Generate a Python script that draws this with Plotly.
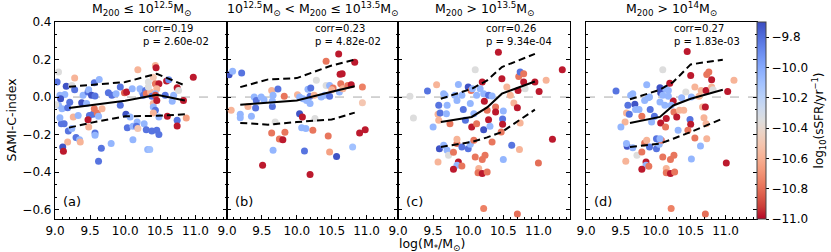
import plotly.graph_objects as go

# ---------------- data ----------------
# sSFR codes used below: dark blue -9.72, blue -9.82, light blue -10.05, grey -10.35,
# light orange -10.58, orange -10.78, red -10.97
a_x = [9.05, 9.03, 9.28, 9.16, 9.24, 9.28, 9.07, 9.14, 9.21, 9.08, 9.05, 9.01, 9.10, 9.18, 9.26, 9.33,
       9.38, 9.40, 9.47, 9.48, 9.56, 9.63, 9.52, 9.57, 9.45, 9.49, 9.54, 9.47, 9.48, 9.56, 9.60, 9.67,
       9.62, 9.09, 9.13, 9.07, 9.19, 9.24, 9.30, 9.35, 9.36, 9.18, 9.11, 9.12, 9.57, 9.57, 9.66, 9.62,
       9.80, 9.76, 9.81, 9.87, 9.93, 9.99, 10.02, 9.93, 10.01, 10.07, 10.03, 10.11, 10.11, 10.17, 10.16,
       10.18, 10.18, 10.10, 10.21, 10.24, 10.29, 10.26, 10.30, 10.36, 10.33, 10.33, 10.38, 10.40, 10.27,
       10.30, 10.38, 10.32, 10.35, 10.43, 10.44, 10.40, 10.43, 10.48, 10.45, 10.43, 10.43, 10.45, 10.40,
       10.43, 10.40, 10.48, 10.45, 10.48, 10.57, 10.59, 10.62, 10.67, 10.69, 10.74, 10.76, 10.74, 10.74,
       10.60, 10.87, 10.83, 10.97]
a_y = [0.133, 0.080, 0.101, 0.057, 0.062, 0.039, 0.009, 0.014, -0.028, -0.009, -0.044, -0.041, -0.062,
       -0.057, -0.106, -0.098, -0.030, 0.009, 0.027, 0.039, 0.076, 0.094, 0.009, 0.005, -0.035, -0.098,
       -0.092, -0.121, -0.160, -0.062, -0.085, -0.062, -0.103, -0.142, -0.142, -0.110, -0.181, -0.168,
       -0.216, -0.227, -0.239, -0.239, -0.266, -0.289, -0.191, -0.204, -0.273, -0.342, -0.248, 0.023,
       0.009, 0.018, 0.053, 0.023, 0.027, -0.044, -0.092, -0.106, -0.163, -0.156, -0.227, -0.133, -0.156,
       -0.168, 0.145, 0.044, 0.044, 0.027, 0.035, 0.009, 0.018, 0.027, 0.053, 0.080, 0.004, -0.035, -0.142,
       -0.174, -0.181, -0.280, -0.280, 0.168, 0.156, 0.106, 0.071, 0.071, 0.044, 0.018, 0.009, -0.018,
       -0.053, -0.071, -0.085, -0.106, -0.177, -0.200, 0.009, 0.085, 0.092, -0.023, 0.009, 0.050, 0.035,
       -0.124, -0.154, -0.103, -0.112, -0.018, 0.106]
a_c = [-10.35, -9.82, -10.58, -9.72, -10.35, -9.82, -10.05, -10.05, -9.82, -9.72, -10.05, -10.35, -10.05,
       -9.82, -10.58, -10.05, -9.72, -10.05, -9.82, -10.05, -9.82, -10.05, -9.72, -9.82, -10.05, -9.82,
       -9.82, -10.97, -10.58, -10.78, -10.78, -10.58, -10.05, -9.82, -9.82, -10.05, -9.82, -10.05, -9.82,
       -10.05, -10.58, -10.58, -9.72, -10.97, -9.82, -10.05, -9.82, -9.82, -10.05, -9.82, -9.82, -10.05,
       -9.82, -10.85, -10.97, -9.82, -9.72, -10.05, -9.82, -10.05, -10.05, -10.05, -9.82, -10.5, -10.58,
       -10.05, -10.05, -10.05, -9.82, -9.82, -10.78, -10.58, -10.35, -10.35, -9.82, -10.58, -10.05, -9.82,
       -9.82, -10.05, -10.1, -10.58, -10.97, -10.5, -10.78, -10.97, -10.58, -10.05, -10.9, -10.97, -10.05,
       -9.82, -10.58, -10.05, -9.82, -9.82, -9.82, -10.97, -9.9, -10.05, -10.05, -10.97, -10.35, -9.82,
       -10.97, -10.97, -10.65, -10.97, -10.97]

b_x = [9.03, 9.08, 9.21, 9.06, 9.19, 9.19, 9.35, 9.30, 9.39, 9.42, 9.41, 9.49, 9.53, 9.64, 9.66, 9.65,
       9.65, 9.73, 9.82, 9.69, 9.64, 9.83, 9.75, 9.80, 9.66, 9.51, 10.01, 10.04, 10.04, 10.08, 10.09,
       10.16, 10.20, 10.19, 10.19, 10.14, 10.25, 10.26, 10.07, 10.13, 10.23, 10.11, 10.19, 10.28, 10.35,
       10.40, 10.42, 10.47, 10.47, 10.52, 10.50, 10.42, 10.45, 10.47, 10.57, 10.60, 10.62, 10.65, 10.63,
       10.61, 10.66, 10.73, 10.78, 10.80, 10.83, 10.94, 10.94, 10.90, 10.98]
b_y = [0.119, 0.137, 0.128, -0.071, -0.092, -0.110, -0.103, -0.050, 0.000, -0.018, -0.059, 0.000, -0.014,
       0.035, 0.009, -0.050, -0.021, 0.043, 0.004, -0.133, -0.191, -0.188, -0.223, -0.227, -0.284, -0.363,
       0.012, 0.000, -0.089, -0.106, -0.009, 0.041, 0.048, 0.004, -0.035, -0.018, 0.009, -0.115, -0.163,
       -0.168, -0.177, -0.287, -0.413, 0.089, 0.000, 0.009, 0.062, 0.062, 0.004, 0.048, 0.039, 0.191,
       -0.207, -0.293, -0.317, 0.230, 0.121, 0.124, 0.071, 0.027, 0.044, 0.062, 0.066, -0.266, 0.186,
       0.053, -0.030, -0.191, -0.174]
b_c = [-9.72, -10.05, -9.82, -10.58, -10.05, -10.05, -10.05, -10.58, -10.05, -9.82, -9.82, -10.05, -10.05,
       -10.58, -10.05, -9.82, -10.05, -9.82, -10.78, -10.35, -10.78, -10.78, -10.78, -10.97, -10.05, -10.97,
       -10.58, -10.05, -9.72, -10.97, -10.05, -10.05, -9.82, -9.82, -10.05, -10.05, -10.58, -10.35, -10.05,
       -10.05, -10.78, -9.82, -10.97, -10.35, -10.05, -10.05, -10.35, -10.05, -9.82, -10.78, -10.58, -10.78,
       -10.78, -10.65, -9.72, -10.97, -10.97, -10.97, -10.78, -10.05, -10.58, -10.78, -10.97, -10.1, -10.97,
       -10.75, -10.5, -10.97, -10.97]

c_x = [9.17, 9.22, 9.42, 9.55, 9.65, 9.67, 9.58, 9.70, 9.57, 9.60, 9.69, 9.58, 9.50, 9.74, 9.81, 9.86,
       9.84, 9.91, 9.93, 9.96, 10.00, 10.04, 10.06, 10.03, 10.10, 10.12, 10.08, 10.05, 10.12, 10.20, 10.17,
       10.22, 10.23, 10.29, 10.27, 10.29, 10.22, 10.31, 10.34, 10.34, 10.39, 10.39, 10.43, 10.48, 10.50,
       10.49, 10.49, 10.47, 10.55, 10.60, 10.65, 10.70, 10.71, 10.72, 10.74, 10.79, 10.74, 10.79, 10.81,
       10.95, 11.01, 11.11, 11.20, 11.34, 11.00, 10.73, 10.62, 10.50, 9.59, 9.65, 9.70, 9.72, 9.57, 9.79,
       9.84, 9.84, 9.86, 9.84, 9.79, 9.91, 9.91, 10.00, 10.03, 10.08, 10.10, 10.15, 10.20, 10.24, 10.14,
       10.20, 10.27, 10.22, 10.70]
c_y = [0.004, -0.112, 0.032, 0.066, 0.018, 0.009, -0.044, -0.044, -0.092, -0.085, -0.089, -0.124, -0.160,
       -0.142, 0.009, 0.067, -0.018, 0.009, -0.067, -0.124, 0.053, 0.035, 0.044, -0.035, 0.145, 0.009,
       -0.089, -0.160, -0.142, 0.080, 0.044, 0.018, -0.023, 0.009, -0.071, -0.121, -0.174, -0.156, -0.239,
       0.005, -0.053, -0.080, 0.239, 0.098, -0.074, -0.117, -0.145, -0.186, 0.053, 0.009, -0.032, -0.057,
       0.035, 0.110, 0.133, 0.124, -0.138, 0.080, 0.044, 0.080, 0.030, 0.089, -0.225, 0.145, -0.351,
       -0.280, -0.257, -0.333, -0.275, -0.257, -0.284, -0.310, -0.346, -0.294, -0.248, -0.225, -0.346,
       -0.363, -0.385, -0.367, -0.266, -0.275, -0.252, -0.230, -0.319, -0.381, -0.333, -0.310, -0.404,
       -0.408, -0.399, -0.594, -0.624]
c_c = [-10.35, -10.35, -9.82, -10.58, -10.05, -10.05, -9.82, -10.05, -10.58, -9.82, -10.05, -10.58, -10.05,
       -10.78, -10.05, -10.05, -10.05, -10.05, -9.82, -9.82, -9.72, -10.78, -10.05, -10.05, -10.35, -10.05,
       -10.05, -10.97, -10.78, -10.97, -10.05, -10.05, -10.97, -9.82, -10.78, -10.97, -9.72, -10.05, -10.78,
       -10.05, -10.78, -10.97, -10.97, -10.97, -10.05, -9.82, -10.97, -10.78, -10.58, -10.58, -10.58, -10.97,
       -10.97, -10.78, -9.82, -10.78, -10.58, -10.97, -10.35, -10.97, -10.97, -10.58, -10.97, -10.97, -10.8,
       -10.58, -9.82, -10.05, -9.72, -10.05, -10.05, -10.35, -10.58, -10.78, -10.78, -10.58, -10.97, -10.05,
       -10.97, -10.78, -9.82, -9.82, -10.05, -10.78, -10.78, -10.58, -10.78, -10.78, -10.78, -10.97, -10.78,
       -10.75, -10.8]

d_x = [9.43, 9.64, 9.67, 9.60, 9.70, 9.58, 9.62, 9.56, 9.50, 9.71, 9.80, 9.76, 9.87, 9.84, 9.89, 9.92,
       9.91, 9.94, 9.98, 10.06, 10.07, 10.06, 10.10, 10.07, 10.10, 10.14, 10.14, 10.20, 10.18, 10.25, 10.22,
       10.26, 10.30, 10.18, 10.15, 10.13, 10.32, 10.34, 10.37, 10.40, 10.43, 10.45, 10.50, 10.49, 10.50,
       10.51, 10.46, 10.56, 10.56, 10.62, 10.65, 10.67, 10.69, 10.71, 10.72, 10.73, 10.76, 10.80, 10.80,
       10.72, 10.82, 11.03, 11.12, 11.01, 10.73, 10.64, 10.51, 9.59, 9.67, 9.58, 9.73, 9.57, 9.80, 9.84,
       9.87, 9.86, 9.86, 9.80, 9.90, 9.91, 10.01, 10.05, 10.08, 10.10, 10.15, 10.21, 10.26, 10.15, 10.21,
       10.27, 10.22, 10.71, 10.01, 10.06]
d_y = [0.032, 0.009, 0.018, -0.044, -0.039, -0.085, -0.092, -0.133, -0.160, -0.067, -0.103, -0.067, 0.066,
       -0.018, -0.004, -0.067, 0.000, -0.133, -0.103, 0.050, 0.023, -0.027, 0.145, -0.138, 0.009, -0.160,
       0.044, 0.074, 0.035, -0.021, -0.044, -0.080, -0.106, 0.004, -0.115, -0.044, -0.177, -0.071, -0.004,
       -0.071, 0.027, 0.243, 0.115, -0.120, -0.145, 0.000, -0.177, 0.053, -0.218, 0.004, 0.035, -0.053,
       -0.110, -0.053, 0.035, 0.120, 0.133, 0.092, 0.053, -0.142, 0.039, 0.030, 0.089, -0.351, -0.222,
       -0.261, -0.330, -0.262, -0.270, -0.248, -0.310, -0.342, -0.293, -0.245, -0.230, -0.346, -0.363,
       -0.385, -0.369, -0.266, -0.275, -0.252, -0.230, -0.319, -0.381, -0.333, -0.310, -0.404, -0.408,
       -0.399, -0.594, -0.624, -0.222, -0.222]
d_c = [-9.82, -10.05, -10.05, -9.82, -9.72, -10.58, -9.82, -10.58, -10.05, -10.05, -10.78, -10.05, -10.05,
       -10.05, -10.05, -9.82, -10.05, -10.05, -9.82, -9.72, -9.72, -10.05, -10.35, -10.97, -10.05, -10.78,
       -10.05, -10.97, -10.05, -10.97, -10.05, -10.78, -10.97, -10.05, -10.97, -10.05, -10.05, -10.58,
       -10.05, -10.58, -10.35, -10.97, -10.97, -9.82, -10.97, -10.05, -10.78, -10.58, -10.78, -10.58,
       -10.58, -10.58, -10.58, -10.97, -10.97, -10.78, -10.78, -10.97, -10.58, -10.58, -10.35, -10.97,
       -10.58, -10.97, -10.58, -10.05, -10.05, -9.72, -10.05, -10.05, -10.35, -10.58, -10.78, -10.78,
       -10.58, -10.97, -10.05, -10.97, -10.78, -9.82, -9.82, -10.05, -10.78, -10.78, -10.58, -10.78, -10.78,
       -10.78, -10.97, -10.78, -10.75, -10.8, -9.82, -10.05]

# running median and percentile curves
a_lx = [9.20, 9.60, 10.00, 10.45, 10.85]
a_med = [-0.058, -0.040, -0.020, 0.012, -0.018]
a_hi = [0.055, 0.068, 0.080, 0.124, 0.062]
a_lo = [-0.163, -0.130, -0.103, -0.100, -0.092]

b_lx = [9.19, 9.59, 10.00, 10.50, 10.83]
b_med = [-0.041, -0.030, -0.018, 0.028, 0.058]
b_hi = [0.053, 0.094, 0.101, 0.168, 0.199]
b_lo = [-0.138, -0.147, -0.133, -0.120, -0.083]

c_lx = [9.61, 10.05, 10.27, 10.48, 10.95]
c_med = [-0.133, -0.106, -0.055, 0.018, 0.083]
c_hi = [-0.009, 0.044, 0.089, 0.160, 0.230]
c_lo = [-0.266, -0.239, -0.215, -0.186, -0.067]

d_lx = [9.63, 10.06, 10.25, 10.50, 10.96]
d_med = [-0.138, -0.106, -0.045, -0.009, 0.039]
d_hi = [-0.012, 0.039, 0.080, 0.174, 0.199]
d_lo = [-0.266, -0.248, -0.222, -0.186, -0.115]

titles = ["M<sub>200</sub> ≤ 10<sup>12.5</sup>M<sub>⊙</sub>",
          "10<sup>12.5</sup>M<sub>⊙</sub> < M<sub>200</sub> ≤ 10<sup>13.5</sup>M<sub>⊙</sub>",
          "M<sub>200</sub> > 10<sup>13.5</sup>M<sub>⊙</sub>",
          "M<sub>200</sub> > 10<sup>14</sup>M<sub>⊙</sub>"]
corr_vals = ["0.19", "0.23", "0.26", "0.27"]
p_vals = ["2.60e-02", "4.82e-02", "9.34e-04", "1.83e-03"]
panel_tags = ["(a)", "(b)", "(c)", "(d)"]
x_ticks = [9.0, 9.5, 10.0, 10.5, 11.0]
y_ticks = [-0.6, -0.4, -0.2, 0.0, 0.2, 0.4]
cbar_ticks = [-11.0, -10.8, -10.6, -10.4, -10.2, -10.0, -9.8]

# ---------------- styling ----------------
coolwarm = [(59, 76, 192), (77, 104, 215), (98, 130, 234), (119, 154, 247), (141, 176, 254),
            (163, 194, 255), (184, 208, 249), (204, 217, 238), (221, 221, 221), (236, 211, 197),
            (245, 196, 173), (247, 177, 148), (244, 154, 123), (236, 127, 99), (222, 96, 77),
            (203, 62, 56), (180, 4, 38)]
n = len(coolwarm)
cscale = [[i / (n - 1), "rgb(%d,%d,%d)" % coolwarm[n - 1 - i]] for i in range(n)]

FONT = "DejaVu Sans"
W, H = 831, 252
ML, MR, MT, MB = 55, 74, 22, 33
pw = W - ML - MR
ph = H - MT - MB
px = lambda p: (p - ML) / pw
py = lambda p: (H - MB - p) / ph
domains = [[px(55), px(227)], [px(227), px(398)], [px(398), px(570)], [px(586), px(757)]]

panels = [(a_x, a_y, a_c, a_lx, a_med, a_hi, a_lo),
          (b_x, b_y, b_c, b_lx, b_med, b_hi, b_lo),
          (c_x, c_y, c_c, c_lx, c_med, c_hi, c_lo),
          (d_x, d_y, d_c, d_lx, d_med, d_hi, d_lo)]

XR = [9.0, 11.45]
YR = [-0.65, 0.4]
TICKSZ = 12

fig = go.Figure()
layout = dict(width=W, height=H, margin=dict(l=ML, r=MR, t=MT, b=MB, autoexpand=False),
              plot_bgcolor="white", paper_bgcolor="white", showlegend=False,
              font=dict(family=FONT, size=11, color="black"))
annotations = []
shapes = []
for i, (xs, ys, cs, lx, med, hi, lo) in enumerate(panels):
    xa = "x" if i == 0 else "x%d" % (i + 1)
    ya = "y" if i == 0 else "y%d" % (i + 1)
    xkey = "xaxis" if i == 0 else "xaxis%d" % (i + 1)
    ykey = "yaxis" if i == 0 else "yaxis%d" % (i + 1)
    layout[xkey] = dict(domain=domains[i], range=XR, anchor=ya, showgrid=False, zeroline=False,
                        showline=True, linecolor="black", linewidth=1.2, mirror=True,
                        ticks="inside", ticklen=4, tickwidth=1, tickcolor="black",
                        tickvals=x_ticks, ticktext=["%.1f" % v for v in x_ticks],
                        tickfont=dict(size=TICKSZ), automargin=False,
                        minor=dict(dtick=0.1, tick0=9.0, ticks="inside", ticklen=2, tickcolor="black"))
    layout[ykey] = dict(domain=[0, 1], range=YR, anchor=xa, showgrid=False, zeroline=False,
                        showline=True, linecolor="black", linewidth=1.2, mirror="ticks",
                        ticks="inside", ticklen=4, tickwidth=1, tickcolor="black",
                        tickvals=y_ticks, ticktext=[("%.1f" % v).replace("-", "\u2212") for v in y_ticks],
                        showticklabels=(i == 0), tickfont=dict(size=TICKSZ), automargin=False,
                        minor=dict(dtick=0.2 / 3, tick0=0.0, ticks="inside", ticklen=2, tickcolor="black"))
    # zero line
    shapes.append(dict(type="line", xref="%s domain" % xa, yref=ya, x0=0, x1=1, y0=0, y1=0,
                       line=dict(color="#a9a9a9", width=1, dash="dash"), layer="below"))
    fig.add_trace(go.Scatter(x=xs, y=ys, mode="markers", xaxis=xa, yaxis=ya,
                             marker=dict(size=7, color=cs, coloraxis="coloraxis", line=dict(width=0))))
    fig.add_trace(go.Scatter(x=lx, y=med, mode="lines", xaxis=xa, yaxis=ya,
                             line=dict(color="black", width=2)))
    for arr in (hi, lo):
        fig.add_trace(go.Scatter(x=lx, y=arr, mode="lines", xaxis=xa, yaxis=ya,
                                 line=dict(color="black", width=2, dash="7px,4px")))
    # title
    annotations.append(dict(text=titles[i], xref="%s domain" % xa, yref="paper", x=0.5, y=1.0,
                            yshift=2, xanchor="center", yanchor="bottom", showarrow=False,
                            font=dict(size=12.5)))
    annotations.append(dict(text="corr=%s<br>p = %s" % (corr_vals[i], p_vals[i]),
                            xref="%s domain" % xa, yref="%s domain" % ya,
                            x=(10.23 - XR[0]) / (XR[1] - XR[0]), y=1.0, yshift=1,
                            xanchor="left", yanchor="top", align="left",
                            showarrow=False, font=dict(size=10)))
    annotations.append(dict(text=panel_tags[i], xref=xa, yref=ya, x=9.09, y=-0.557,
                            xanchor="left", yanchor="middle", showarrow=False, font=dict(size=13)))

annotations.append(dict(text="log(M<sub>*</sub>/M<sub>⊙</sub>)", xref="paper", yref="paper",
                        x=px(432), y=py(244), xanchor="center",
                        yanchor="middle", showarrow=False, font=dict(size=12.5)))
annotations.append(dict(text="SAMI-C-index", xref="paper", yref="paper", x=px(11), y=0.5,
                        xanchor="center", yanchor="middle", textangle=-90, showarrow=False,
                        font=dict(size=12.5)))

layout["annotations"] = annotations
layout["shapes"] = shapes
layout["coloraxis"] = dict(cmin=-11.0, cmax=-9.7, colorscale=cscale,
                           colorbar=dict(x=px(757), xanchor="left", xpad=0, xref="paper",
                                         y=0.5, yanchor="middle", len=1, lenmode="fraction", ypad=0,
                                         thickness=9, outlinewidth=1, outlinecolor="#444",
                                         tickvals=cbar_ticks,
                                         ticktext=[("%.1f" % v).replace("-", "\u2212") for v in cbar_ticks],
                                         ticks="outside", ticklen=3, tickcolor="black",
                                         tickfont=dict(size=TICKSZ),
                                         title=dict(text="log<sub>10</sub>(sSFR/yr<sup>\u22121</sup>)",
                                                    side="right", font=dict(size=12))))
fig.update_layout(**layout)
fig.write_html("out.html", config={"displayModeBar": False},
               post_script="document.body.style.margin='0';document.body.style.overflow='hidden';")
